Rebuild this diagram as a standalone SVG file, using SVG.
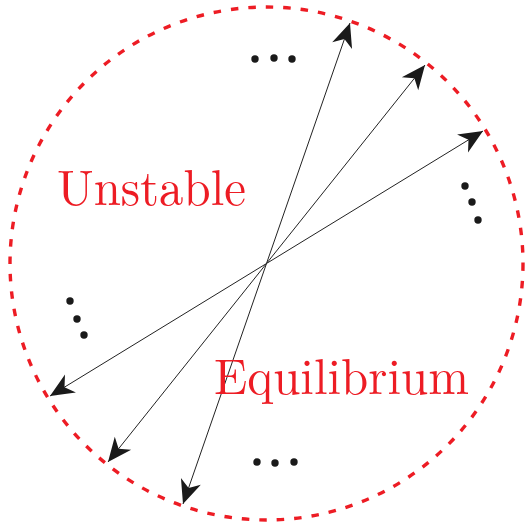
<svg xmlns="http://www.w3.org/2000/svg" width="526" height="525" viewBox="0 0 526 525">
  <style>
    .ring { fill: none; stroke: #ed1c24; stroke-width: 3.4; stroke-dasharray: 7.5 10; }
    .ray { stroke: #222; stroke-width: 1; fill: none; marker-start: url(#head); marker-end: url(#head); }
    .dot { fill: #1a1a1a; }
    .lbl { font-family: "Latin Modern Roman", "Liberation Serif", "Times New Roman", serif; font-size: 50px; fill: #ed1c24; }
  </style>
  <defs>
    <marker id="head" markerUnits="userSpaceOnUse" viewBox="-26 -12 28 24" refX="0" refY="0" markerWidth="28" markerHeight="24" orient="auto-start-reverse" overflow="visible">
      <path d="M0,0 L-24,-10.5 L-17,0 L-24,10.5 Z" fill="#1a1a1a"/>
    </marker>
  </defs>
  <g id="boundary">
    <circle class="ring" cx="266.5" cy="263.5" r="256.5"/>
  </g>
  <g id="connectors">
    <line class="ray" x1="183" y1="504" x2="350" y2="23"/>
    <line class="ray" x1="108" y1="462" x2="425" y2="65"/>
    <line class="ray" x1="50" y1="396" x2="483" y2="131"/>
  </g>
  <g id="dots-top">
    <circle class="dot" cx="255" cy="59" r="3.7"/>
    <circle class="dot" cx="274" cy="58" r="3.7"/>
    <circle class="dot" cx="292" cy="59" r="3.7"/>
  </g>
  <g id="dots-right">
    <circle class="dot" cx="465" cy="186" r="3.7"/>
    <circle class="dot" cx="472" cy="202" r="3.7"/>
    <circle class="dot" cx="478" cy="220" r="3.7"/>
  </g>
  <g id="dots-left">
    <circle class="dot" cx="70" cy="301" r="3.7"/>
    <circle class="dot" cx="77" cy="319" r="3.7"/>
    <circle class="dot" cx="84" cy="335" r="3.7"/>
  </g>
  <g id="dots-bottom">
    <circle class="dot" cx="257" cy="462" r="3.7"/>
    <circle class="dot" cx="275" cy="463" r="3.7"/>
    <circle class="dot" cx="294" cy="462" r="3.7"/>
  </g>
  <g id="label-unstable">
    <text class="lbl" x="57" y="205" textLength="189" lengthAdjust="spacingAndGlyphs">Unstable</text>
  </g>
  <g id="label-equilibrium">
    <text class="lbl" x="214" y="394" textLength="255" lengthAdjust="spacingAndGlyphs">Equilibrium</text>
  </g>
</svg>
